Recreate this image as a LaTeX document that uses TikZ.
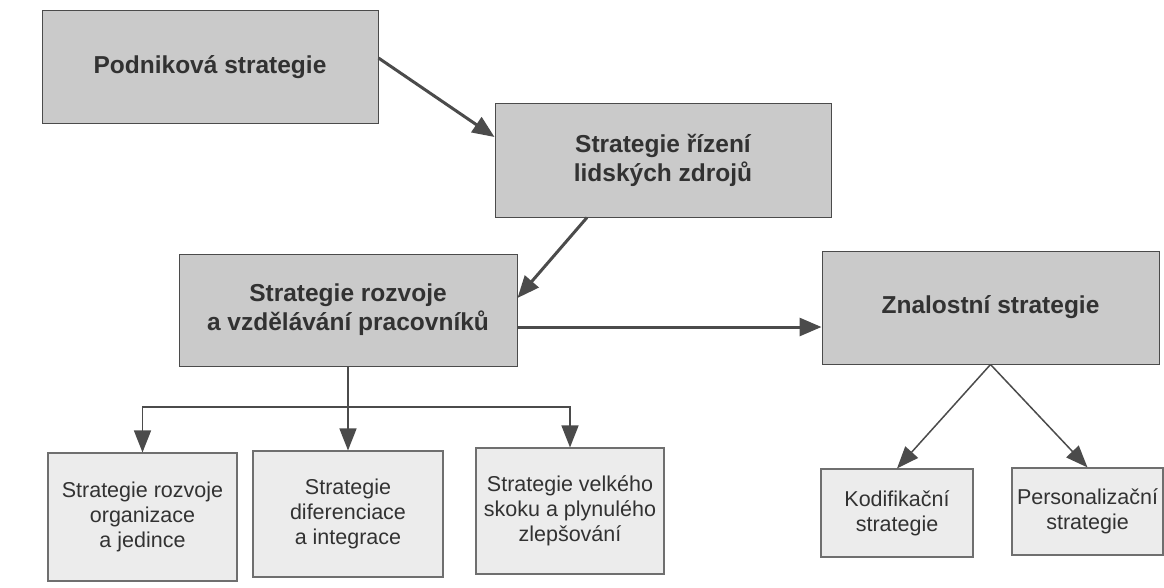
\documentclass[tikz,border=0pt]{standalone}
\usepackage{fontspec}
\setmainfont{Liberation Sans}
\usetikzlibrary{arrows.meta}
\definecolor{boxgray}{RGB}{202,202,202}
\definecolor{lightgray}{RGB}{236,236,236}
\definecolor{linegray}{RGB}{75,75,75}
\definecolor{textgray}{RGB}{50,50,50}

\begin{document}
\begin{tikzpicture}[x=1pt,y=-1pt,
  bigbox/.style={draw=linegray,line width=1pt,fill=boxgray,text=textgray,align=center,
    minimum width=336pt,minimum height=113pt,font=\fontsize{24.5}{29}\selectfont\bfseries},
  smallbox/.style={draw=linegray!80,line width=1.1pt,fill=lightgray,text=textgray,align=center,
    font=\fontsize{21.5}{25}\selectfont},
  mainarrow/.style={draw=linegray,line width=3pt,-{Triangle[length=22pt,width=18pt]}},
  subarrow/.style={draw=linegray,line width=1.5pt,-{Triangle[length=22pt,width=17pt]}},
  subline/.style={draw=linegray,line width=1.5pt}]
\useasboundingbox (0,0) rectangle (1164,588);
% upper level
\node[bigbox] (podnik) at (210,67.5) {Podniková strategie};
\node[bigbox] (rlz) at (663,160.5) {Strategie řízení\\lidských zdrojů};
\node[bigbox,minimum width=338pt,minimum height=112pt] (rozvoj) at (348,310) {Strategie rozvoje\\a vzdělávání pracovníků};
\node[bigbox,minimum width=337pt] (znalost) at (990.5,307.5) {Znalostní strategie};
% lower level
\node[smallbox,minimum width=189pt,minimum height=128pt] (orgjed) at (142.5,517) {Strategie rozvoje\\organizace\\a jedince};
\node[smallbox,minimum width=190pt,minimum height=126pt] (difint) at (348,514) {Strategie\\diferenciace\\a integrace};
\node[smallbox,minimum width=188pt,minimum height=126pt] (skok) at (570,511) {Strategie velkého\\skoku a plynulého\\zlepšování};
\node[smallbox,minimum width=152pt,minimum height=88pt] (kodif) at (897,513) {Kodifikační\\strategie};
\node[smallbox,minimum width=151pt,minimum height=87pt] (person) at (1087.5,511.5) {Personalizační\\strategie};
% connectors
\draw[mainarrow] ([yshift=9.5pt]podnik.east) -- ([yshift=23.5pt]rlz.west);
\draw[mainarrow] ([xshift=-76pt]rlz.south) -- ([yshift=12pt]rozvoj.east);
\draw[mainarrow] ([yshift=-17pt]rozvoj.east) -- ([yshift=-17pt]rozvoj.east -| znalost.west);
\coordinate (split) at (348,407);
\draw[subline] (rozvoj.south) -- (split);
\draw[subarrow] (split) -| (orgjed.north);
\draw[subarrow] (split) -- (difint.north);
\draw[subarrow] (split) -| (skok.north);
\draw[subarrow] (znalost.south) -- (kodif.north);
\draw[subarrow] (znalost.south) -- (person.north);
\end{tikzpicture}
\end{document}
